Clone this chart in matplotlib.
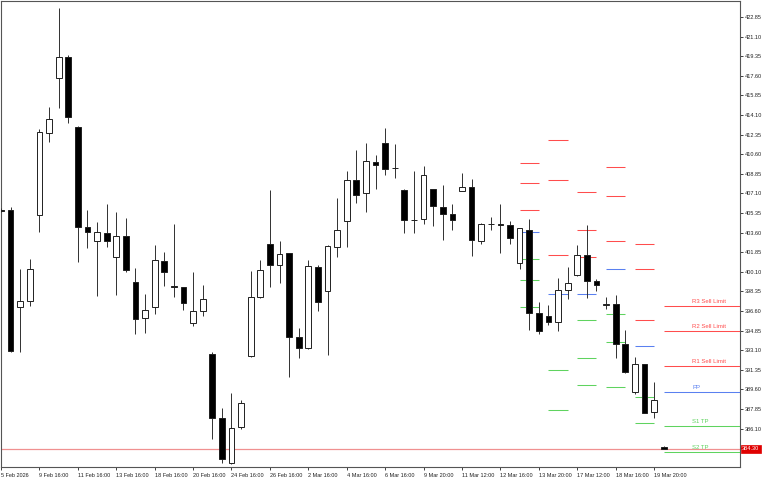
import matplotlib
matplotlib.use('Agg')
import matplotlib.pyplot as plt
from matplotlib.patches import Rectangle
import matplotlib.transforms as mtrans

plt.rcParams['font.family'] = ['Liberation Sans', 'DejaVu Sans']

# ---- candle data (index 0..69) ----
opens = [405.62, 405.62, 396.98, 397.49, 405.14, 412.52, 417.38, 419.25, 413.06, 404.13,
         402.88, 403.59, 401.42, 403.32, 399.19, 395.97, 396.98, 401.09, 398.81, 398.72,
         395.56, 396.60, 392.76, 387.07, 383.00, 386.20, 392.61, 397.82, 402.56, 400.68,
         401.75, 394.25, 393.32, 400.56, 398.41, 402.31, 404.64, 408.27, 407.11, 409.88,
         411.63, 409.35, 407.43, 404.70, 404.79, 407.47, 405.86, 405.29, 407.29, 407.64,
         402.82, 404.37, 404.31, 404.25, 400.86, 403.86, 396.39, 396.15, 395.59, 398.47,
         399.79, 401.57, 399.31, 397.12, 397.20, 393.65, 389.39, 391.84, 387.61, 384.50]
highs = [405.80, 405.89, 400.35, 401.27, 412.82, 414.84, 423.65, 419.46, 413.12, 405.62,
         404.57, 406.15, 405.44, 404.88, 400.41, 398.09, 402.52, 401.87, 404.37, 398.76,
         400.11, 398.92, 392.97, 387.91, 389.25, 388.65, 400.20, 401.15, 407.40, 402.88,
         401.78, 395.06, 401.15, 400.68, 402.46, 406.66, 409.10, 410.97, 411.57, 410.53,
         412.97, 411.51, 407.49, 409.10, 409.52, 407.50, 407.85, 406.13, 408.95, 408.39,
         404.48, 404.97, 406.13, 404.61, 404.05, 404.81, 397.40, 397.14, 399.57, 400.53,
         402.49, 404.28, 399.46, 397.82, 398.06, 394.88, 392.47, 391.87, 390.29, 384.52]
lows = [405.44, 392.98, 392.97, 397.05, 403.63, 411.72, 414.70, 413.36, 400.97, 402.25,
        397.97, 402.29, 398.03, 400.11, 394.57, 394.66, 396.33, 398.83, 397.88, 396.69,
        395.29, 396.18, 385.14, 383.06, 382.98, 386.06, 392.47, 397.79, 398.77, 399.07,
        390.68, 392.43, 393.18, 396.57, 392.70, 401.45, 402.34, 406.27, 405.44, 407.52,
        408.77, 408.50, 403.59, 403.54, 404.37, 404.19, 402.94, 403.83, 407.27, 401.54,
        402.58, 403.83, 401.81, 402.56, 400.38, 394.93, 394.52, 395.38, 394.84, 397.67,
        399.76, 397.73, 398.41, 396.78, 392.43, 391.09, 389.19, 387.47, 387.07, 384.27]
closes = [405.53, 393.03, 397.49, 400.32, 412.56, 413.72, 419.25, 413.89, 404.13, 403.65,
          403.63, 402.88, 403.32, 400.23, 395.91, 396.66, 401.15, 400.08, 398.74, 397.34,
          396.57, 397.64, 387.05, 383.41, 386.18, 388.41, 397.82, 400.23, 400.68, 401.69,
          394.25, 393.27, 400.62, 397.40, 402.40, 403.86, 408.27, 406.96, 409.97, 409.66,
          409.28, 409.39, 404.72, 404.74, 408.74, 405.97, 405.29, 404.72, 407.64, 402.94,
          404.37, 404.33, 404.27, 403.09, 404.01, 396.39, 394.84, 395.62, 398.47, 399.07,
          401.57, 399.25, 398.89, 397.16, 393.65, 391.15, 391.89, 387.52, 388.63, 384.30]

x_tick_pos = [0, 4, 8, 12, 16, 20, 24, 28, 32, 36, 40, 44, 48, 52, 56, 60, 64, 68]
x_tick_labels = ["5 Feb 2026", "9 Feb 16:00", "11 Feb 16:00", "13 Feb 16:00", "18 Feb 16:00",
                 "20 Feb 16:00", "24 Feb 16:00", "26 Feb 16:00", "2 Mar 16:00", "4 Mar 16:00",
                 "6 Mar 16:00", "9 Mar 20:00", "11 Mar 12:00", "12 Mar 16:00", "13 Mar 20:00",
                 "17 Mar 12:00", "18 Mar 16:00", "19 Mar 20:00"]
y_ticks = [422.85, 421.10, 419.35, 417.60, 415.85, 414.10, 412.35, 410.60, 408.85, 407.10,
           405.35, 403.60, 401.85, 400.10, 398.35, 396.60, 394.85, 393.10, 391.35, 389.60,
           387.85, 386.10, 384.35]

# ---- daily pivot levels ----
pivot_start = [54, 57, 60, 63, 66, 69]
pivot_end = [56, 59, 62, 65, 68, 77]
pivot_r3 = [409.84, 411.87, 407.20, 409.43, 402.61, 397.02]
pivot_r2 = [408.00, 408.27, 403.83, 406.84, 400.32, 394.84]
pivot_r1 = [405.59, 401.57, 401.45, 402.88, 395.77, 391.66]
pivot_pp = [403.68, 398.09, 398.09, 400.32, 393.45, 389.37]
pivot_s1 = [401.22, 391.33, 395.77, 396.36, 388.92, 386.31]
pivot_s2 = [399.39, 387.79, 392.43, 393.81, 386.57, 384.04]
pivot_s3 = [396.93, 381.09, 390.02, 389.79, 382.02, 380.86]
level_names = ["R3 Sell Limit", "R2 Sell Limit", "R1 Sell Limit", "PP", "S1 TP", "S2 TP"]

bid = 384.30

RED = '#ff4d4d'
BLUE = '#5a80f0'
GREEN = '#5fd35f'

fig = plt.figure(figsize=(7.68, 4.8), dpi=100)
L, R, T, B = 1, 740, 1.3, 467
ax = fig.add_axes([L / 768, 1 - B / 480, (R - L) / 768, (B - T) / 480])
xmax = (R - L) / 9.604
ax.set_xlim(0, xmax)
ax.set_ylim(382.67, 424.25)

# bid line
ax.axhline(bid, color='#f09090', lw=0.9, zorder=1)

# pivot lines
groups = [(pivot_r3, RED), (pivot_r2, RED), (pivot_r1, RED), (pivot_pp, BLUE),
          (pivot_s1, GREEN), (pivot_s2, GREEN), (pivot_s3, GREEN)]
for vals, col in groups:
    for s, e, v in zip(pivot_start, pivot_end, vals):
        ax.plot([s, e], [v, v], color=col, lw=0.75, zorder=2, solid_capstyle='butt')

# labels for current period
cur = [pivot_r3[-1], pivot_r2[-1], pivot_r1[-1], pivot_pp[-1], pivot_s1[-1], pivot_s2[-1]]
cols = [RED, RED, RED, BLUE, GREEN, GREEN]
for name, v, col in zip(level_names, cur, cols):
    ax.annotate(name, xy=(72.0, v), xytext=(0, 3.3), textcoords='offset points',
                ha='left', va='center', fontsize=4.3, color=col, zorder=3)

# candles
bw = 0.6
for i, (o, h, l, c) in enumerate(zip(opens, highs, lows, closes)):
    ax.plot([i, i], [l, h], color='#303030', lw=0.7, zorder=4, solid_capstyle='butt')
    bull = c >= o
    lo, hi = min(o, c), max(o, c)
    height = max(hi - lo, 0.06)
    ax.add_patch(Rectangle((i - bw / 2, lo), bw, height,
                           facecolor='white' if bull else 'black',
                           edgecolor='#202020', lw=0.7, zorder=5))

# axes styling
for sp in ax.spines.values():
    sp.set_color('#555555')
    sp.set_linewidth(0.8)
ax.yaxis.tick_right()
ax.set_yticks(y_ticks)
ax.set_yticklabels([f"{v:.2f}" for v in y_ticks])
ax.tick_params(axis='y', length=2.5, width=0.6, pad=1, labelsize=4, colors='#222222')
ax.set_xticks(x_tick_pos)
ax.set_xticklabels(x_tick_labels)
ax.tick_params(axis='x', length=2.5, width=0.6, pad=1.5, labelsize=4, colors='#222222')
for lbl in ax.get_xticklabels():
    lbl.set_ha('left')

# current price box
trans = mtrans.blended_transform_factory(ax.transAxes, ax.transData)
ax.text(1.003, bid, f"{bid:.2f}", transform=trans, ha='left', va='center',
        fontsize=4, color='white', zorder=10, clip_on=False,
        bbox=dict(boxstyle='square,pad=0.25', fc='#e00000', ec='#e00000', lw=0.5))

fig.savefig('out.png', dpi=100)
